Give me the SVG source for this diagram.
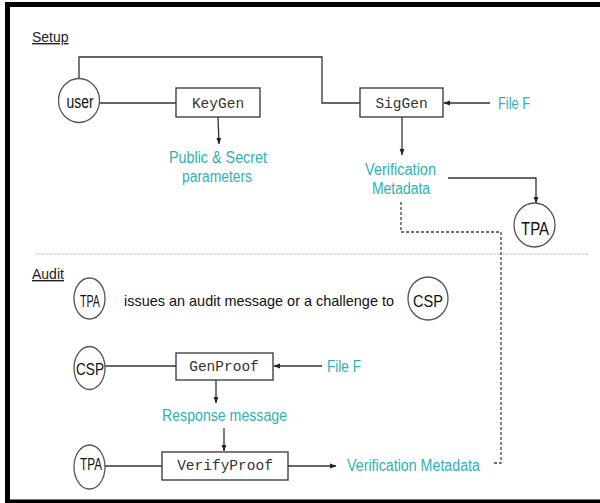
<svg xmlns="http://www.w3.org/2000/svg" width="600" height="503" viewBox="0 0 600 503">
  <defs>
    <marker id="arrow" viewBox="0 0 8 8" refX="7.5" refY="4" markerWidth="5" markerHeight="5" orient="auto" markerUnits="strokeWidth">
      <path d="M0,1 L8,4 L0,7 z" fill="#222"/>
    </marker>
    <style>
      .frame { fill: #000; }
      .line { fill: none; stroke: #333; stroke-width: 1.3; }
      .dash { fill: none; stroke: #444; stroke-width: 1.3; stroke-dasharray: 3 2; }
      .sep { stroke: #aaa; stroke-width: 1; stroke-dasharray: 1 1; }
      .box { fill: #fff; stroke: #333; stroke-width: 1.3; }
      .ell { fill: #fff; stroke: #555; stroke-width: 1.3; }
      .mono { font-family: "Liberation Mono", "Courier New", monospace; font-size: 14.5px; fill: #333; text-anchor: middle; }
      .lbl { font-family: "Liberation Sans Narrow", "Liberation Sans", Arial, sans-serif; font-size: 14.5px; fill: #111; }
      .node { font-family: "Liberation Sans Narrow", "Liberation Sans", Arial, sans-serif; font-size: 17px; fill: #111; text-anchor: middle; }
      .big { font-size: 18px; }
      .teal { font-family: "Liberation Sans Narrow", "Liberation Sans", Arial, sans-serif; font-size: 16px; fill: #2fb1b1; }
      .mid { text-anchor: middle; }
      .head { font-family: "Liberation Sans", Arial, sans-serif; font-size: 14px; fill: #222; text-decoration: underline; }
    </style>
  </defs>

  <rect width="600" height="503" fill="#fff"/>

  <!-- outer frame (top, left, bottom) -->
  <rect class="frame" x="5" y="2" width="595" height="5"/>
  <rect class="frame" x="5" y="2" width="5" height="501"/>
  <rect class="frame" x="5" y="499.5" width="595" height="3.5"/>

  <!-- section divider -->
  <line class="sep" x1="35" y1="254" x2="588" y2="254"/>

  <text class="head" x="32" y="42">Setup</text>
  <text class="head" x="32" y="279">Audit</text>

  <g id="connectors">
    <!-- setup -->
    <polyline class="line" points="79,78 79,57 322,57 322,103 360,103"/>
    <line class="line" x1="99.5" y1="103" x2="176" y2="103"/>
    <line class="line" x1="218" y1="117" x2="219" y2="144" marker-end="url(#arrow)"/>
    <line class="line" x1="490" y1="103" x2="444" y2="103" marker-end="url(#arrow)"/>
    <line class="line" x1="402" y1="117" x2="402" y2="155" marker-end="url(#arrow)"/>
    <polyline class="line" points="448,178 536,178 536,203" marker-end="url(#arrow)"/>
    <polyline class="dash" points="401,202 401,232 501,232 501,463 492,463"/>
    <!-- audit -->
    <line class="line" x1="105" y1="366" x2="176" y2="366"/>
    <line class="line" x1="322" y1="366" x2="274" y2="366" marker-end="url(#arrow)"/>
    <line class="line" x1="216" y1="380" x2="216" y2="403" marker-end="url(#arrow)"/>
    <line class="line" x1="224" y1="428" x2="224" y2="451" marker-end="url(#arrow)"/>
    <line class="line" x1="105" y1="466" x2="162" y2="466"/>
    <line class="line" x1="288" y1="466" x2="336" y2="466" marker-end="url(#arrow)"/>
  </g>

  <g id="user">
    <ellipse class="ell" cx="79" cy="100.5" rx="20.5" ry="22"/>
    <text class="node big" x="80" y="108" textLength="27" lengthAdjust="spacingAndGlyphs">user</text>
  </g>

  <g id="keygen">
    <rect class="box" x="176" y="88" width="84" height="29"/>
    <text class="mono" x="218" y="107.5">KeyGen</text>
  </g>

  <g id="siggen">
    <rect class="box" x="360" y="88" width="83" height="29"/>
    <text class="mono" x="401.5" y="107.5">SigGen</text>
  </g>

  <g id="file-f-setup">
    <text class="teal" x="498" y="109" textLength="32" lengthAdjust="spacingAndGlyphs">File F</text>
  </g>

  <g id="params">
    <text class="teal mid" x="218" y="163" textLength="98" lengthAdjust="spacingAndGlyphs">Public &amp; Secret</text>
    <text class="teal mid" x="217" y="182" textLength="70" lengthAdjust="spacingAndGlyphs">parameters</text>
  </g>

  <g id="meta-setup">
    <text class="teal mid" x="400.5" y="175" textLength="71" lengthAdjust="spacingAndGlyphs">Verification</text>
    <text class="teal mid" x="401" y="194" textLength="58" lengthAdjust="spacingAndGlyphs">Metadata</text>
  </g>

  <g id="tpa-setup">
    <ellipse class="ell" cx="534.5" cy="225" rx="20.5" ry="22"/>
    <text class="node big" x="535" y="234.5" textLength="28" lengthAdjust="spacingAndGlyphs">TPA</text>
  </g>

  <g id="tpa-challenge">
    <ellipse class="ell" cx="89.5" cy="298.5" rx="15.5" ry="20.5"/>
    <text class="node" x="90" y="307" textLength="20" lengthAdjust="spacingAndGlyphs">TPA</text>
  </g>

  <g id="challenge">
    <text class="lbl" x="124" y="306" textLength="270" lengthAdjust="spacingAndGlyphs">issues an audit message or a challenge to</text>
  </g>

  <g id="csp-challenge">
    <ellipse class="ell" cx="428" cy="298.5" rx="20" ry="21.5"/>
    <text class="node" x="428" y="306.5" textLength="30" lengthAdjust="spacingAndGlyphs">CSP</text>
  </g>

  <g id="csp">
    <ellipse class="ell" cx="89.5" cy="368" rx="15.5" ry="21.5"/>
    <text class="node" x="90" y="375" textLength="28" lengthAdjust="spacingAndGlyphs">CSP</text>
  </g>

  <g id="genproof">
    <rect class="box" x="176" y="353" width="97" height="27"/>
    <text class="mono" x="224" y="370.5">GenProof</text>
  </g>

  <g id="file-f-audit">
    <text class="teal" x="327" y="372" textLength="34" lengthAdjust="spacingAndGlyphs">File F</text>
  </g>

  <g id="response">
    <text class="teal mid" x="224.5" y="421" textLength="125" lengthAdjust="spacingAndGlyphs">Response message</text>
  </g>

  <g id="tpa-verify">
    <ellipse class="ell" cx="89.5" cy="467" rx="15.5" ry="22"/>
    <text class="node" x="91" y="469.5" textLength="22" lengthAdjust="spacingAndGlyphs">TPA</text>
  </g>

  <g id="verifyproof">
    <rect class="box" x="162" y="452" width="126" height="28"/>
    <text class="mono" x="225" y="469.5">VerifyProof</text>
  </g>

  <g id="meta-audit">
    <text class="teal" x="347" y="471" textLength="133" lengthAdjust="spacingAndGlyphs">Verification Metadata</text>
  </g>
</svg>
